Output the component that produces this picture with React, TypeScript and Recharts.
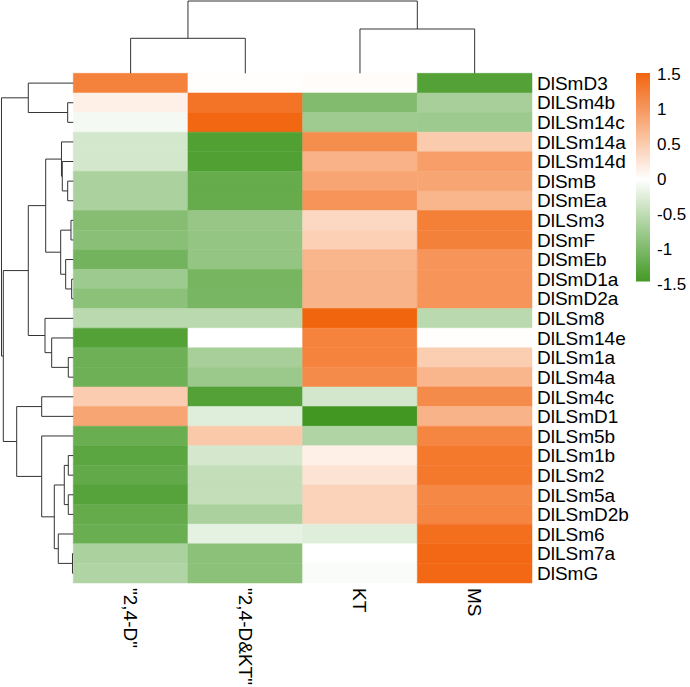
import React from "react";
import {
  ComposedChart,
  BarChart,
  Bar,
  XAxis,
  YAxis,
  ReferenceArea,
  ReferenceLine,
} from "recharts";

const FONT = '"Liberation Sans", Arial, Helvetica, sans-serif';

// rows, top to bottom (dendrogram order)
const genes = [
  "DlSmD3", "DlLSm4b", "DlLSm14c", "DlLSm14a", "DlLSm14d", "DlSmB", "DlSmEa",
  "DlLSm3", "DlSmF", "DlSmEb", "DlSmD1a", "DlSmD2a", "DlLSm8", "DlLSm14e",
  "DlLSm1a", "DlLSm4a", "DlLSm4c", "DlLSmD1", "DlLSm5b", "DlLSm1b", "DlLSm2",
  "DlLSm5a", "DlLSmD2b", "DlLSm6", "DlLSm7a", "DlSmG",
];

const treatments = ['"2,4-D"', '"2,4-D&KT"', "KT", "MS"];

// scaled expression per treatment (same order as genes)
const d24 = [
  1.22, 0.15, -0.08, -0.34, -0.34, -0.65, -0.65, -0.94, -0.91, -1.08, -0.76, -0.89, -0.54,
  -1.34, -1.13, -1.13, 0.5, 0.88, -1.16, -1.27, -1.22, -1.31, -1.2, -1.16, -0.65, -0.61,
];
const d24kt = [
  0.01, 1.35, 1.48, -1.36, -1.36, -1.19, -1.19, -0.81, -0.83, -0.83, -1.06, -1.04, -0.54,
  0.0, -0.68, -0.78, -1.34, -0.25, 0.53, -0.33, -0.47, -0.47, -0.65, -0.2, -0.89, -0.89,
];
const kt = [
  0.03, -0.97, -0.74, 1.11, 0.75, 0.88, 1.04, 0.38, 0.46, 0.72, 0.74, 0.74, 1.5,
  1.21, 1.21, 1.13, -0.35, -1.48, -0.61, 0.15, 0.27, 0.43, 0.43, -0.25, 0.0, -0.05,
];
const ms = [
  -1.34, -0.68, -0.76, 0.51, 0.94, 0.88, 0.71, 1.25, 1.23, 1.04, 1.04, 1.04, -0.54,
  0.01, 0.48, 0.71, 1.13, 0.74, 1.18, 1.31, 1.31, 1.16, 1.19, 1.41, 1.47, 1.47,
];
const columns = [d24, d24kt, kt, ms];

// hclust-style merges: negative = leaf (1-based), positive = earlier merge; [a, b, height]
const rowMerges: [number, number, number][] = [
  [-2, -3, 5.6], [-1, 1, 45], [-6, -7, 5.6], [-5, 3, 11], [-4, 4, 11.8],
  [-8, -9, 2.3], [-11, -12, 1.6], [-10, 7, 7.6], [6, 8, 12.6], [5, 9, 27.6],
  [-15, -16, 5], [-14, 11, 21.6], [-13, 12, 28.3], [10, 13, 45], [-17, -18, 31.6],
  [-20, -21, 5], [-22, -23, 5], [16, 17, 9], [-25, -26, 0.8], [-24, 19, 15],
  [18, 20, 19], [-19, 21, 31.6], [15, 22, 56.6], [14, 23, 70], [2, 24, 71.8],
];
const colMerges: [number, number, number][] = [
  [-1, -2, 35], [-3, -4, 44.3], [1, 2, 72.3],
];

const legendTicks = [-1.5, -1, -0.5, 0, 0.5, 1, 1.5];
const legendRange = [-1.46, 1.52];

// layout of the dendrogram space in axis units
const ROW_TREE_SPAN = 0.639; // column units left of heatmap
const COL_TREE_SPAN = 3.74; // row units above heatmap
const TREE_HEIGHT = 73.3;

const GREEN = [62, 150, 31];
const ORANGE = [242, 101, 15];

function heatColor(v: number) {
  const t = Math.max(-1, Math.min(1, v / 1.5));
  const end = t >= 0 ? ORANGE : GREEN;
  const a = Math.abs(t);
  const c = end.map((e) => Math.round(255 + (e - 255) * a));
  return `rgb(${c[0]},${c[1]},${c[2]})`;
}

function dendroSegments(merges: [number, number, number][]) {
  const nodes: { p: number; h: number }[] = [];
  const segs: [number, number, number, number][] = []; // p1,h1,p2,h2
  const get = (id: number) => (id < 0 ? { p: -id - 0.5, h: 0 } : nodes[id - 1]);
  merges.forEach(([a, b, h]) => {
    const A = get(a);
    const B = get(b);
    segs.push([A.p, A.h, A.p, h]);
    segs.push([B.p, B.h, B.p, h]);
    segs.push([A.p, h, B.p, h]);
    nodes.push({ p: (A.p + B.p) / 2, h });
  });
  return segs;
}

const rowSegs = dendroSegments(rowMerges).map(([p1, h1, p2, h2]) => [
  { x: (-h1 / TREE_HEIGHT) * ROW_TREE_SPAN, y: p1 },
  { x: (-h2 / TREE_HEIGHT) * ROW_TREE_SPAN, y: p2 },
]);
const colSegs = dendroSegments(colMerges).map(([p1, h1, p2, h2]) => [
  { x: p1, y: (-h1 / TREE_HEIGHT) * COL_TREE_SPAN },
  { x: p2, y: (-h2 / TREE_HEIGHT) * COL_TREE_SPAN },
]);

const ColTick = (props: any) => {
  const { x, y, payload } = props;
  const label = treatments[Math.floor(payload.value)];
  return (
    <text
      x={x}
      y={y}
      transform={`rotate(90, ${x}, ${y})`}
      textAnchor="start"
      dominantBaseline="central"
      fontSize={19}
      fontFamily={FONT}
      fill="#000"
    >
      {label}
    </text>
  );
};

function ColorKey() {
  const stops = [1.52, 1, 0.5, 0, -0.5, -1, -1.46];
  return (
    <BarChart
      width={70}
      height={240}
      data={[{ name: "key", range: legendRange }]}
      margin={{ top: 13, right: 0, bottom: 15.6, left: 16 }}
      barCategoryGap={0}
    >
      <defs>
        <linearGradient id="keyGrad" x1="0" y1="0" x2="0" y2="1">
          {stops.map((v) => (
            <stop
              key={v}
              offset={(legendRange[1] - v) / (legendRange[1] - legendRange[0])}
              stopColor={heatColor(v)}
            />
          ))}
        </linearGradient>
      </defs>
      <XAxis dataKey="name" hide />
      <YAxis
        type="number"
        orientation="right"
        domain={[-1.5, 1.52]}
        allowDataOverflow
        ticks={legendTicks}
        interval={0}
        width={40}
        axisLine={false}
        tickLine={false}
        tickSize={0}
        tickMargin={7}
        tick={{ fill: "#000", fontSize: 17, fontFamily: FONT }}
      />
      <Bar dataKey="range" fill="url(#keyGrad)" isAnimationActive={false} />
    </BarChart>
  );
}

export default function App() {
  return (
    <div
      style={{
        position: "absolute",
        left: 0,
        top: 0,
        width: 690,
        height: 687,
        background: "#fff",
      }}
    >
      <ComposedChart width={690} height={687} margin={{ top: 0, right: 0, bottom: 0, left: 0 }}>
        <XAxis
          type="number"
          dataKey="x"
          domain={[-ROW_TREE_SPAN, 4]}
          allowDataOverflow
          ticks={[0.5, 1.5, 2.5, 3.5]}
          interval={0}
          height={104}
          axisLine={false}
          tickLine={false}
          tickSize={0}
          tickMargin={5}
          tick={<ColTick />}
        />
        <YAxis
          type="number"
          orientation="right"
          reversed
          domain={[-COL_TREE_SPAN, genes.length]}
          allowDataOverflow
          ticks={genes.map((_, i) => i + 0.5)}
          interval={0}
          width={158}
          axisLine={false}
          tickLine={false}
          tickSize={0}
          tickMargin={5}
          tickFormatter={(v: number) => genes[Math.floor(v)]}
          tick={{ fill: "#000", fontSize: 19, fontFamily: FONT }}
        />
        {columns.map((col, j) =>
          col.map((v, i) => (
            <ReferenceArea
              key={`c${j}-${i}`}
              x1={j}
              x2={j + 1}
              y1={i}
              y2={i + 1}
              fill={heatColor(v)}
              fillOpacity={1}
              stroke={heatColor(v)}
              strokeWidth={0.5}
              ifOverflow="visible"
            />
          ))
        )}
        {rowSegs.map((s, k) => (
          <ReferenceLine key={`r${k}`} segment={s} stroke="#333" strokeWidth={1} ifOverflow="visible" />
        ))}
        {colSegs.map((s, k) => (
          <ReferenceLine key={`t${k}`} segment={s} stroke="#333" strokeWidth={1} ifOverflow="visible" />
        ))}
      </ComposedChart>
      <div style={{ position: "absolute", left: 620, top: 60 }}>
        <ColorKey />
      </div>
    </div>
  );
}
